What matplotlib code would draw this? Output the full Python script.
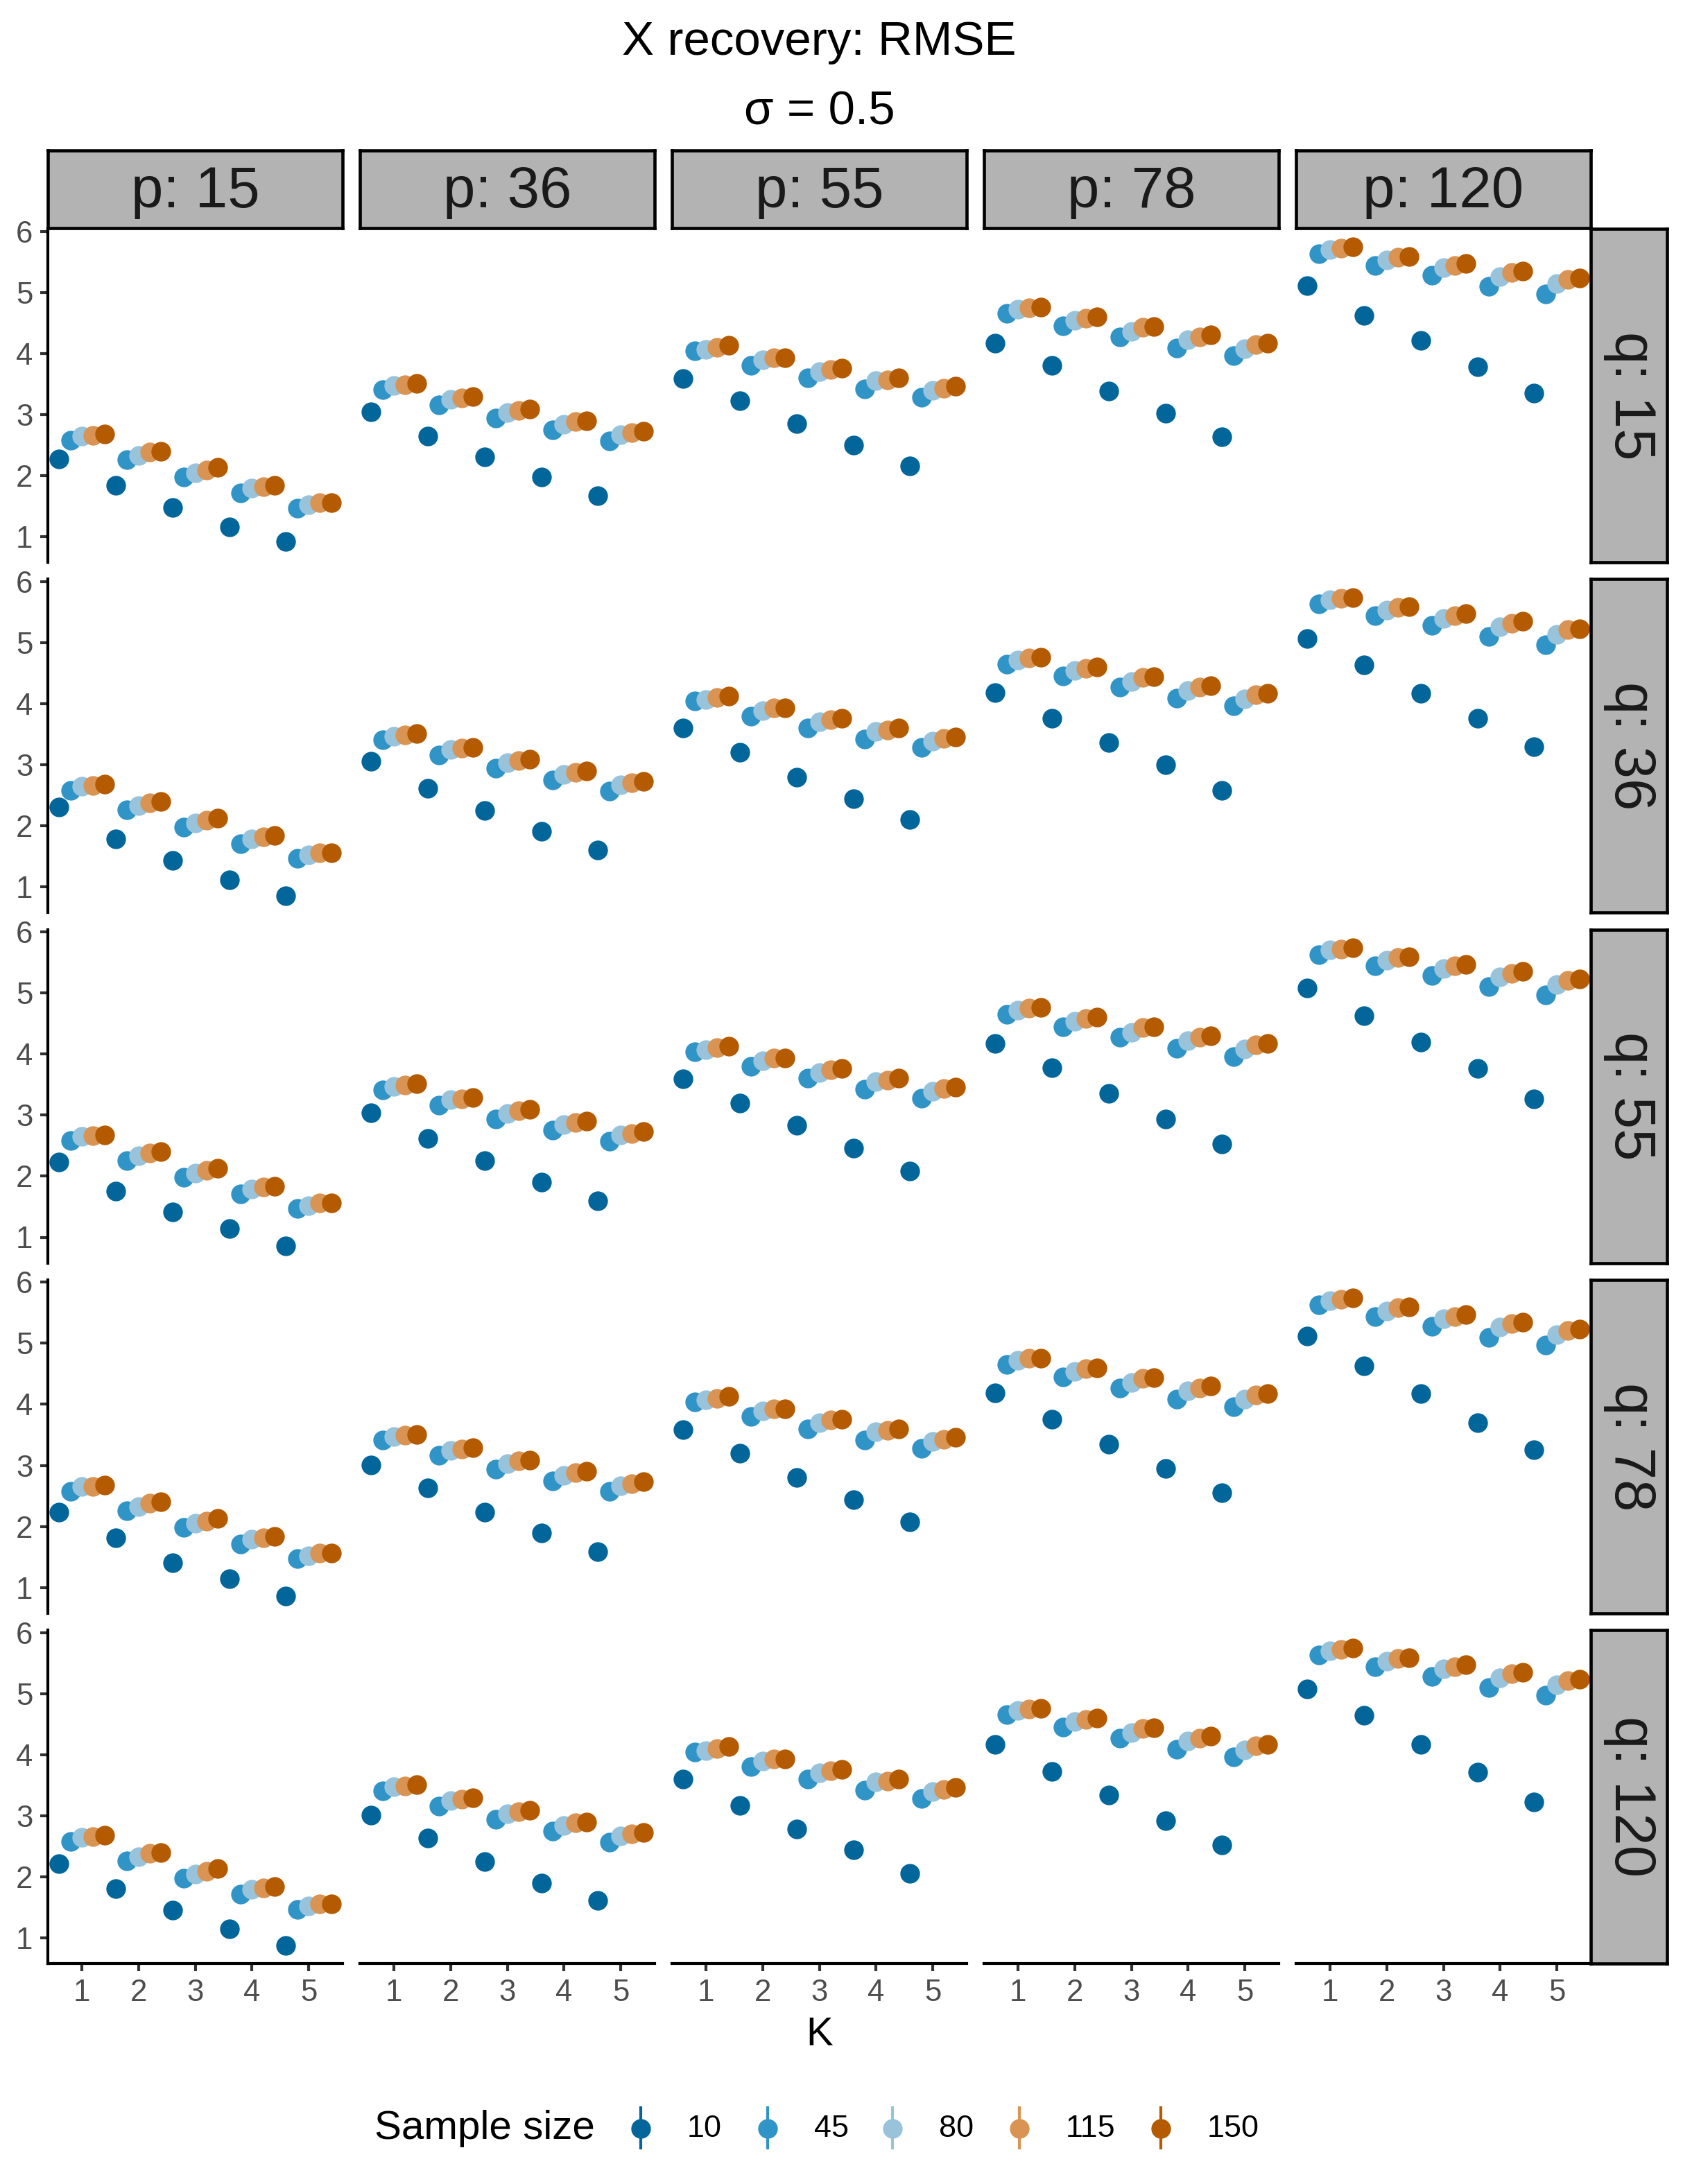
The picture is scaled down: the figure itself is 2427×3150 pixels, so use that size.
import matplotlib
matplotlib.use('Agg')
import matplotlib.pyplot as plt
from matplotlib.lines import Line2D

plt.rcParams['font.family'] = ['Liberation Sans', 'DejaVu Sans']

P_VALUES = [15, 36, 55, 78, 120]
Q_VALUES = [15, 36, 55, 78, 120]
K_VALUES = [1, 2, 3, 4, 5]
SAMPLE_SIZES = [10, 45, 80, 115, 150]
COLORS = ['#02669B', '#3194C7', '#99C3DB', '#D99353', '#B45A00']

# n = 10 moves a little between q rows; inner lists are p = 15..120, values for K = 1..5
rmse_n10 = {
    15: [[2.27, 1.84, 1.48, 1.16, 0.92], [3.04, 2.65, 2.31, 1.98, 1.67], [3.59, 3.22, 2.85, 2.50, 2.16],
         [4.17, 3.80, 3.38, 3.02, 2.64], [5.11, 4.62, 4.21, 3.78, 3.35]],
    36: [[2.31, 1.79, 1.43, 1.12, 0.86], [3.06, 2.61, 2.25, 1.91, 1.61], [3.60, 3.21, 2.80, 2.45, 2.10],
         [4.18, 3.76, 3.36, 3.00, 2.58], [5.07, 4.64, 4.17, 3.76, 3.30]],
    55: [[2.23, 1.76, 1.42, 1.14, 0.86], [3.04, 2.62, 2.25, 1.90, 1.60], [3.59, 3.20, 2.83, 2.46, 2.08],
         [4.17, 3.78, 3.35, 2.94, 2.53], [5.08, 4.63, 4.19, 3.76, 3.27]],
    78: [[2.24, 1.81, 1.41, 1.14, 0.86], [3.01, 2.63, 2.24, 1.89, 1.59], [3.59, 3.20, 2.80, 2.44, 2.08],
         [4.19, 3.76, 3.35, 2.95, 2.55], [5.12, 4.63, 4.18, 3.70, 3.26]],
    120: [[2.22, 1.81, 1.45, 1.15, 0.88], [3.01, 2.63, 2.25, 1.90, 1.61], [3.60, 3.17, 2.78, 2.44, 2.06],
          [4.17, 3.73, 3.34, 2.92, 2.52], [5.07, 4.64, 4.17, 3.71, 3.22]],
}

# larger samples are practically the same for every q
rmse_n45 = [[2.58, 2.26, 1.98, 1.71, 1.47], [3.41, 3.16, 2.94, 2.75, 2.57], [4.04, 3.80, 3.60, 3.42, 3.28],
            [4.65, 4.45, 4.27, 4.09, 3.96], [5.63, 5.44, 5.28, 5.10, 4.97]]
rmse_n80 = [[2.65, 2.33, 2.05, 1.79, 1.52], [3.47, 3.25, 3.03, 2.84, 2.67], [4.07, 3.89, 3.70, 3.55, 3.39],
            [4.72, 4.54, 4.36, 4.22, 4.08], [5.70, 5.53, 5.40, 5.26, 5.14]]
rmse_n115 = [[2.66, 2.38, 2.09, 1.82, 1.56], [3.49, 3.27, 3.07, 2.88, 2.70], [4.10, 3.93, 3.74, 3.57, 3.43],
             [4.75, 4.58, 4.43, 4.27, 4.15], [5.72, 5.58, 5.44, 5.32, 5.21]]
rmse_n150 = [[2.68, 2.40, 2.13, 1.84, 1.56], [3.51, 3.29, 3.09, 2.90, 2.73], [4.13, 3.93, 3.76, 3.60, 3.46],
             [4.76, 4.60, 4.44, 4.30, 4.17], [5.74, 5.59, 5.47, 5.35, 5.23]]

W, H = 2427, 3150
fig = plt.figure(figsize=(W / 300, H / 300), dpi=300)
fig.patch.set_facecolor('white')

def fx(px):
    return px / W

def fy(py):
    return 1 - py / H

PANEL_LEFT = [69, 519, 969, 1419, 1869]
PANEL_W = 425
PANEL_TOP = [330, 835.25, 1340.5, 1845.75, 2351]
PANEL_H = 481
STRIP = 112
GRAY = '#B3B3B3'
MS = 6.8
STRIP_FS = 20

for r, q in enumerate(Q_VALUES):
    for c, p in enumerate(P_VALUES):
        ax = fig.add_axes([fx(PANEL_LEFT[c]), fy(PANEL_TOP[r] + PANEL_H), PANEL_W / W, PANEL_H / H])
        series = [rmse_n10[q][c], rmse_n45[c], rmse_n80[c], rmse_n115[c], rmse_n150[c]]
        for i, vals in enumerate(series):
            xs = [k + (i - 2) * 0.2 for k in K_VALUES]
            ax.plot(xs, vals, 'o', ms=MS, color=COLORS[i], mec='none')
        ax.set_xlim(0.4, 5.6)
        ax.set_ylim(0.58, 6.04)
        for s in ['top', 'right']:
            ax.spines[s].set_visible(False)
        ax.spines['left'].set_linewidth(1.0)
        ax.spines['bottom'].set_linewidth(1.0)
        ax.tick_params(length=2.6, width=1.0, color='#333333', labelcolor='#4D4D4D',
                       labelsize=10.5, pad=2.6)
        ax.set_xticks(K_VALUES)
        ax.set_yticks([1, 2, 3, 4, 5, 6])
        if c == 0:
            ax.set_yticklabels([str(v) for v in [1, 2, 3, 4, 5, 6]])
        else:
            ax.spines['left'].set_visible(False)
            ax.tick_params(axis='y', left=False, labelleft=False)
        if r == len(Q_VALUES) - 1:
            ax.set_xticklabels([str(k) for k in K_VALUES])
        else:
            ax.spines['bottom'].set_visible(False)
            ax.tick_params(axis='x', bottom=False, labelbottom=False)

# top strips
for c, p in enumerate(P_VALUES):
    sa = fig.add_axes([fx(PANEL_LEFT[c]), fy(PANEL_TOP[0] - 1), PANEL_W / W, STRIP / H])
    sa.set_facecolor(GRAY)
    sa.set_xticks([]); sa.set_yticks([])
    for s in sa.spines.values():
        s.set_linewidth(1.1); s.set_color('black')
    sa.text(0.5, 0.46, f'p: {p}', ha='center', va='center', fontsize=STRIP_FS,
            color='#1A1A1A', transform=sa.transAxes)

# right strips
for r, q in enumerate(Q_VALUES):
    sa = fig.add_axes([fx(2294), fy(PANEL_TOP[r] + PANEL_H), 110 / W, PANEL_H / H])
    sa.set_facecolor(GRAY)
    sa.set_xticks([]); sa.set_yticks([])
    for s in sa.spines.values():
        s.set_linewidth(1.1); s.set_color('black')
    sa.text(0.52, 0.5, f'q: {q}', ha='center', va='center', fontsize=STRIP_FS, rotation=-90,
            color='#1A1A1A', transform=sa.transAxes)

# titles
cx = fx((69 + 2294) / 2)
fig.text(cx, fy(79), 'X recovery: RMSE', ha='center', va='baseline', fontsize=16.6)
fig.text(cx, fy(180), 'σ = 0.5', ha='center', va='baseline', fontsize=16.6)
fig.text(cx, fy(2935), 'K', ha='center', va='center', fontsize=14)

# legend
ly = 3070
fig.text(fx(540), fy(ly), 'Sample size', ha='left', va='center', fontsize=14)
key_x = [924, 1107, 1287, 1470, 1674]
for kx, n, col in zip(key_x, SAMPLE_SIZES, COLORS):
    fig.add_artist(Line2D([fx(kx), fx(kx)], [fy(ly - 30), fy(ly + 28)], color=col, lw=1.0,
                          transform=fig.transFigure))
    fig.add_artist(Line2D([fx(kx)], [fy(ly)], marker='o', ms=MS, color=col, mec='none',
                          transform=fig.transFigure))
    fig.text(fx(kx + 67), fy(ly), str(n), ha='left', va='center', fontsize=10.8)

fig.savefig('out.png', dpi=300, facecolor='white')
